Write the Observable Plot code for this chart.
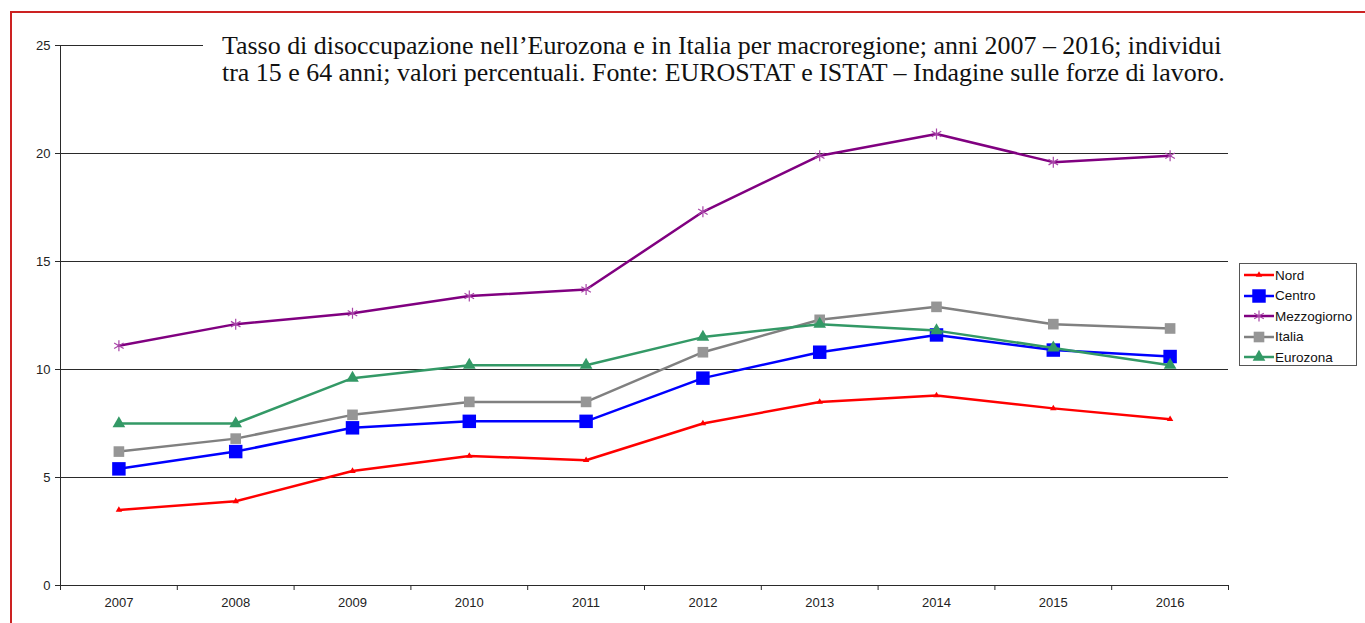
<!DOCTYPE html>
<html>
<head>
<meta charset="utf-8">
<script src="https://cdn.jsdelivr.net/npm/d3@7"></script>
<script src="https://cdn.jsdelivr.net/npm/@observablehq/plot@0.6"></script>
<style>
  html, body { margin: 0; padding: 0; background: #fff; }
  #wrap { position: relative; width: 1365px; height: 623px; overflow: hidden; }
  #frame { position: absolute; left: 10px; top: 11px; width: 1400px; height: 700px;
           border-left: 2px solid #cc2222; border-top: 2px solid #cc2222; }
  #chart { position: absolute; left: 0; top: 0; }
  #chart svg text { font-size: 13px !important; font-family: "Liberation Sans", Arial, sans-serif !important; }
  #title { position: absolute; left: 203px; top: 32px; width: 1040px; padding-left: 19px;
           background: #fff; font-family: "Liberation Serif", "DejaVu Serif", serif;
           font-size: 24px; line-height: 27px; color: #111; white-space: nowrap; }
  #title span { display: inline-block; }
  #legend { position: absolute; left: 1239px; top: 263px; width: 118px; height: 103px;
            border: 1px solid #555; background: #fff; box-sizing: border-box;
            font-family: "Liberation Sans", Arial, sans-serif; font-size: 13.5px; color: #111; }
  .item { position: absolute; left: 2px; height: 20px; display: flex; align-items: center; }
  .item svg { display: block; }
  .item span { margin-left: 1px; }
</style>
</head>
<body>
<div id="wrap">
  <div id="frame"></div>
  <div id="chart"></div>
  <div id="title"><span id="t1">Tasso di disoccupazione nell’Eurozona e in Italia per macroregione; anni 2007 – 2016; individui</span><br><span id="t2">tra 15 e 64 anni; valori percentuali. Fonte: EUROSTAT e ISTAT – Indagine sulle forze di lavoro.</span></div>
  <div id="legend"></div>
</div>
<script>
const years = [2007, 2008, 2009, 2010, 2011, 2012, 2013, 2014, 2015, 2016];
const nord        = [3.5, 3.9, 5.3, 6.0, 5.8, 7.5, 8.5, 8.8, 8.2, 7.7];
const centro      = [5.4, 6.2, 7.3, 7.6, 7.6, 9.6, 10.8, 11.6, 10.9, 10.6];
const mezzogiorno = [11.1, 12.1, 12.6, 13.4, 13.7, 17.3, 19.9, 20.9, 19.6, 19.9];
const italia      = [6.2, 6.8, 7.9, 8.5, 8.5, 10.8, 12.3, 12.9, 12.1, 11.9];
const eurozona    = [7.5, 7.5, 9.6, 10.2, 10.2, 11.5, 12.1, 11.8, 11.0, 10.2];
const yTicks = [0, 5, 10, 15, 20, 25];
const seriesNames = ["Nord", "Centro", "Mezzogiorno", "Italia", "Eurozona"];

const seriesDefs = [
  {name: "Nord", values: nord, line: "#ff0000", fill: "#ff0000", symbol: "triangle", r: 2.4, sw: 2.5, stroke: false},
  {name: "Centro", values: centro, line: "#0000ff", fill: "#0000ff", symbol: "square", r: 7.6, sw: 2.5, stroke: false},
  {name: "Mezzogiorno", values: mezzogiorno, line: "#800080", fill: "#a845a8", symbol: "asterisk", r: 5.2, sw: 2.5, stroke: true},
  {name: "Italia", values: italia, line: "#808080", fill: "#969696", symbol: "square", r: 6.0, sw: 2.5, stroke: false},
  {name: "Eurozona", values: eurozona, line: "#339966", fill: "#339966", symbol: "triangle", r: 4.7, sw: 2.5, stroke: false}
];

const rows = seriesDefs.map(s => years.map((y, i) => ({year: y, value: s.values[i], series: s.name})));

// band boundaries for tick marks
const bounds = years.map(y => y - 0.5).concat([years[years.length - 1] + 0.5]);
const gridVals = yTicks.filter(v => v > 0);
const font = "Liberation Sans, Arial, sans-serif";

const marks = [
  Plot.ruleY(gridVals, {stroke: "#2a2a2a", strokeWidth: 1}),
  Plot.ruleY([0], {stroke: "#2a2a2a", strokeWidth: 1}),
  Plot.ruleX([bounds[0]], {stroke: "#2a2a2a", strokeWidth: 1}),
  Plot.axisY({ticks: yTicks, tickSize: 5, tickPadding: 5, label: null,
              stroke: "#2a2a2a", fill: "#222", tickFormat: d => String(d)}),
  Plot.axisX({ticks: bounds, tickSize: 5, tickFormat: () => "", label: null, stroke: "#2a2a2a"}),
  Plot.axisX({ticks: years, tickSize: 0, tickPadding: 12, label: null,
              fill: "#222", tickFormat: d => String(d)})
];
seriesDefs.forEach((s, k) => {
  marks.push(Plot.line(rows[k], {x: "year", y: "value", stroke: s.line, strokeWidth: s.sw}));
  if (s.stroke) {
    marks.push(Plot.dot(rows[k], {x: "year", y: "value", symbol: s.symbol, r: s.r, stroke: s.fill, strokeWidth: 1.2}));
  } else {
    marks.push(Plot.dot(rows[k], {x: "year", y: "value", symbol: s.symbol, r: s.r, fill: s.fill, stroke: "none"}));
  }
});

const plot = Plot.plot({
  width: 1365, height: 623,
  marginLeft: 60, marginRight: 137, marginTop: 45, marginBottom: 38,
  x: {type: "linear", domain: [bounds[0], bounds[bounds.length - 1]]},
  y: {domain: [0, 25]},
  style: {background: "transparent", overflow: "visible", fontSize: "13px", fontFamily: font},
  marks
});
document.getElementById("chart").appendChild(plot);

// fit title width
(function fitTitle() {
  const t1 = document.getElementById("t1");
  const w = t1.getBoundingClientRect().width;
  const target = 1000;
  if (w > 0) {
    const fs = 24 * target / w;
    document.getElementById("title").style.fontSize = fs.toFixed(2) + "px";
  }
})();

// legend
const legend = document.getElementById("legend");
seriesDefs.forEach((s, i) => {
  const item = document.createElement("div");
  item.className = "item";
  item.style.top = (1 + i * 20.6) + "px";
  const svg = d3.create("svg").attr("width", 32).attr("height", 20);
  svg.append("line").attr("x1", 2).attr("x2", 32).attr("y1", 10).attr("y2", 10)
    .attr("stroke", s.line).attr("stroke-width", 2.5);
  const symMap = {triangle: d3.symbolTriangle, square: d3.symbolSquare, asterisk: d3.symbolAsterisk};
  const path = d3.symbol(symMap[s.symbol], Math.PI * s.r * s.r)();
  const p = svg.append("path").attr("d", path).attr("transform", "translate(17,10)");
  if (s.stroke) p.attr("fill", "none").attr("stroke", s.fill).attr("stroke-width", 1.2);
  else p.attr("fill", s.fill);
  item.appendChild(svg.node());
  const sp = document.createElement("span");
  sp.textContent = seriesNames[i];
  item.appendChild(sp);
  legend.appendChild(item);
});
</script>
</body>
</html>
